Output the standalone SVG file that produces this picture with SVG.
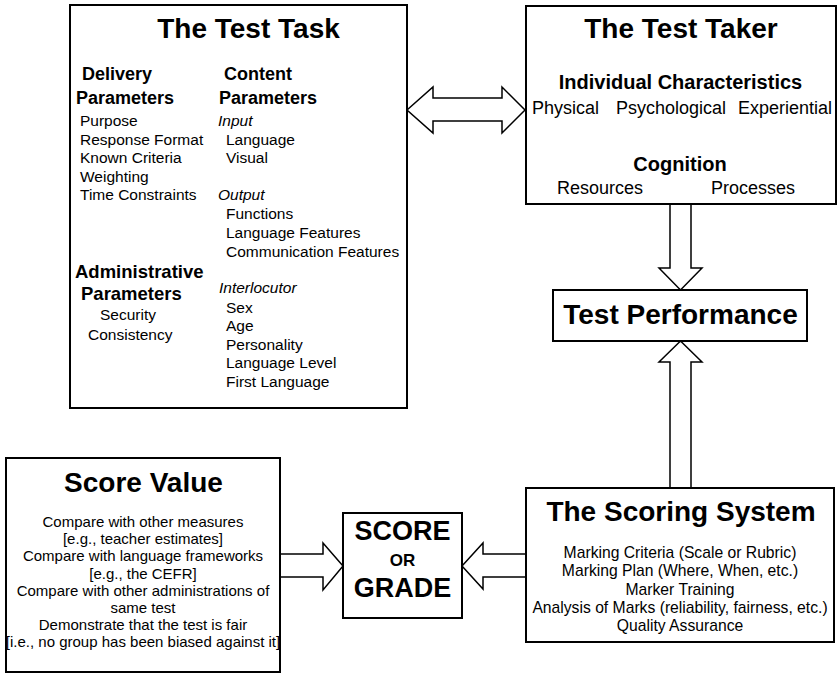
<svg xmlns="http://www.w3.org/2000/svg" width="838" height="674" viewBox="0 0 838 674">
<style>
text{font-family:"Liberation Sans",Arial,sans-serif;fill:#000}
.box{fill:#fff;stroke:#000;stroke-width:2}
.arr{fill:#fff;stroke:#000;stroke-width:1.5;stroke-linejoin:miter}
.t28{font-size:28px;font-weight:bold}
.h18{font-size:18px;font-weight:bold}
.h20{font-size:20px;font-weight:bold}
.i{font-size:15.5px}
.it{font-size:15.5px;font-style:italic}
.r18{font-size:18px}
.s15{font-size:15px}
.s157{font-size:15.7px}
.m{text-anchor:middle}
</style>
<rect width="838" height="674" fill="#fff"/>
<g id="connectors">
<polygon class="arr" points="407,110 433,87 433,98 502,98 502,87 525,110 502,133 502,121 433,121 433,133"/>
<polygon class="arr" points="670,204 691,204 691,268 702,268 680.5,290 659,268 670,268"/>
<polygon class="arr" points="680.5,341 702,362 691,362 691,488 670,488 670,362 659,362"/>
<polygon class="arr" points="280,554 323,554 323,543 343,566 323,590 323,577 280,577"/>
<polygon class="arr" points="462,566 483,543 483,554 526,554 526,577 483,577 483,589"/>
</g>
<g id="test-task">
<rect class="box" x="70" y="5" width="337" height="403"/>
<text class="t28 m" x="248.5" y="38">The Test Task</text>
<text class="h18" x="82" y="80">Delivery</text>
<text class="h18" x="76" y="104">Parameters</text>
<text class="h18" x="224" y="80">Content</text>
<text class="h18" x="219" y="104">Parameters</text>
<text class="i" x="80" y="126">Purpose</text>
<text class="i" x="80" y="144.5">Response Format</text>
<text class="i" x="80" y="163">Known Criteria</text>
<text class="i" x="80" y="181.5">Weighting</text>
<text class="i" x="80" y="200">Time Constraints</text>
<text class="it" x="218" y="126">Input</text>
<text class="i" x="226" y="144.5">Language</text>
<text class="i" x="226" y="163">Visual</text>
<text class="it" x="218" y="200">Output</text>
<text class="i" x="226" y="219">Functions</text>
<text class="i" x="226" y="238">Language Features</text>
<text class="i" x="226" y="257">Communication Features</text>
<text class="h18" x="75" y="278" style="font-size:18.5px">Administrative</text>
<text class="h18" x="81" y="300" style="font-size:18.5px">Parameters</text>
<text class="i" x="100" y="320">Security</text>
<text class="i" x="88" y="340">Consistency</text>
<text class="it" x="219" y="293">Interlocutor</text>
<text class="i" x="226" y="313">Sex</text>
<text class="i" x="226" y="331">Age</text>
<text class="i" x="226" y="349.5">Personality</text>
<text class="i" x="226" y="368">Language Level</text>
<text class="i" x="226" y="387">First Language</text>
</g>
<g id="test-taker">
<rect class="box" x="526" y="6" width="310" height="198"/>
<text class="t28 m" x="681" y="38">The Test Taker</text>
<text class="h20 m" x="680.5" y="89">Individual Characteristics</text>
<text class="r18" x="532" y="114">Physical</text>
<text class="r18" x="616" y="114">Psychological</text>
<text class="r18" x="738" y="114">Experiential</text>
<text class="h20 m" x="680" y="171">Cognition</text>
<text class="r18" x="557" y="194">Resources</text>
<text class="r18" x="711" y="194">Processes</text>
</g>
<g id="test-performance">
<rect class="box" x="553" y="290" width="254" height="51"/>
<text class="t28 m" x="680.5" y="324">Test Performance</text>
</g>
<g id="scoring-system">
<rect class="box" x="526" y="488" width="308" height="154"/>
<text class="t28 m" x="681" y="521">The Scoring System</text>
<text class="s157 m" x="680" y="558">Marking Criteria (Scale or Rubric)</text>
<text class="s157 m" x="680" y="576.3">Marking Plan (Where, When, etc.)</text>
<text class="s157 m" x="680" y="594.6">Marker Training</text>
<text class="s157 m" x="680" y="612.9">Analysis of Marks (reliability, fairness, etc.)</text>
<text class="s157 m" x="680" y="631.2">Quality Assurance</text>
</g>
<g id="score-grade">
<rect class="box" x="343" y="513" width="119" height="105"/>
<text class="m" x="402.5" y="540" style="font-size:27px;font-weight:bold">SCORE</text>
<text class="m" x="402.5" y="566" style="font-size:17px;font-weight:bold">OR</text>
<text class="m" x="402.5" y="597" style="font-size:27px;font-weight:bold">GRADE</text>
</g>
<g id="score-value">
<rect class="box" x="6" y="458" width="274" height="214"/>
<text class="t28 m" x="143.5" y="492">Score Value</text>
<text class="s15 m" x="143" y="527">Compare with other measures</text>
<text class="s15 m" x="143" y="544.2">[e.g., teacher estimates]</text>
<text class="s15 m" x="143" y="561.4">Compare with language frameworks</text>
<text class="s15 m" x="143" y="578.6">[e.g., the CEFR]</text>
<text class="s15 m" x="143" y="595.8">Compare with other administrations of</text>
<text class="s15 m" x="143" y="613">same test</text>
<text class="s15 m" x="143" y="630.2">Demonstrate that the test is fair</text>
<text class="s15 m" x="143" y="647.4">[i.e., no group has been biased against it]</text>
</g>
</svg>
